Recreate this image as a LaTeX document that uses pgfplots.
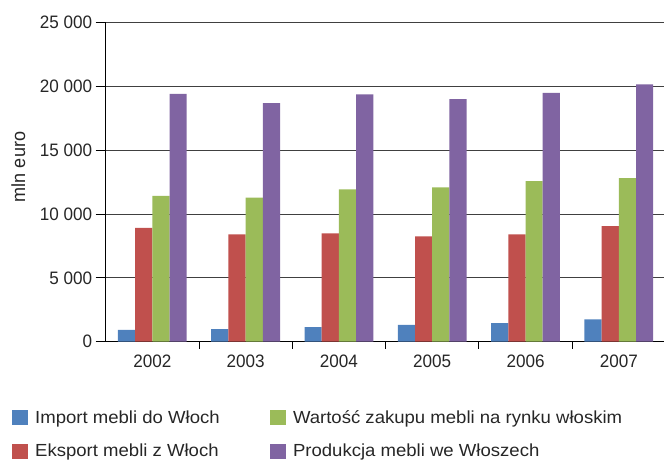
\documentclass[border=0pt]{standalone}
\usepackage{fontspec}
\setmainfont{Liberation Sans}
\newfontfamily\tickfont[FakeStretch=0.95]{Liberation Sans}
\newfontfamily\legfont[FakeStretch=1.06]{Liberation Sans}
\usepackage{pgfplots}
\pgfplotsset{compat=1.18}
\definecolor{cA}{HTML}{4F81BD}
\definecolor{cB}{HTML}{C0504D}
\definecolor{cC}{HTML}{9BBB59}
\definecolor{cD}{HTML}{8064A2}
\begin{document}
\begin{tikzpicture}
\begin{axis}[
  at={(0,0)}, anchor=south west,
  scale only axis, width=558.3pt, height=319.4pt,
  ybar=0pt, bar width=17.2pt,
  xmin=-0.5, xmax=5.484, ymin=0, ymax=25000,
  axis lines=left, axis line style={-, black, line width=0.8pt},
  xtick={0,1,2,3,4,5}, xticklabels={2002,2003,2004,2005,2006,2007},
  minor xtick={0.5,1.5,2.5,3.5,4.5},
  major x tick style={draw=none},
  minor tick length=7pt, major tick length=10pt,
  tick align=outside,
  tick style={black, line width=0.8pt},
  ytick={0,5000,10000,15000,20000,25000},
  ymajorgrids, grid style={black!75, line width=0.8pt},
  scaled y ticks=false,
  /pgf/number format/.cd, 1000 sep={\ }, assume math mode=true, /pgfplots/.cd,
  ticklabel style={font=\tickfont\fontsize{18}{18}\selectfont, text=black!85},
  ylabel={mln euro},
  ylabel style={at={(axis description cs:-0.1564,0.547)}, anchor=center, text=black!85, font=\tickfont\fontsize{19}{19}\selectfont},
  legend columns=2, transpose legend,
  legend cell align=left,
  legend style={draw=none, fill=none, inner sep=0pt,
    at={(axis description cs:-0.1684,-0.2141)}, anchor=north west,
    font=\legfont\fontsize{17.5}{17.5}\selectfont, text=black!85,
    nodes={inner sep=0pt},
    column sep=6.7pt, row sep=18pt,
    /tikz/every even column/.append style={column sep=50pt}},
  legend image code/.code={\fill[#1] (0pt,-8pt) rectangle (16.6pt,7pt);},
]
\addplot[fill=cA, draw=none] coordinates {(0,920) (1,990) (2,1150) (3,1310) (4,1460) (5,1750)};
\addplot[fill=cB, draw=none] coordinates {(0,8900) (1,8400) (2,8480) (3,8250) (4,8400) (5,9050)};
\addplot[fill=cC, draw=none] coordinates {(0,11420) (1,11270) (2,11920) (3,12080) (4,12570) (5,12810)};
\addplot[fill=cD, draw=none] coordinates {(0,19400) (1,18680) (2,19360) (3,18990) (4,19480) (5,20140)};
\legend{Import mebli do Włoch, Eksport mebli z Włoch, Wartość zakupu mebli na rynku włoskim, Produkcja mebli we Włoszech}
\end{axis}
\pgfresetboundingbox
\path[use as bounding box] (-105.7pt,-117.3pt) rectangle (558.3pt,341.7pt);
\end{tikzpicture}
\end{document}
